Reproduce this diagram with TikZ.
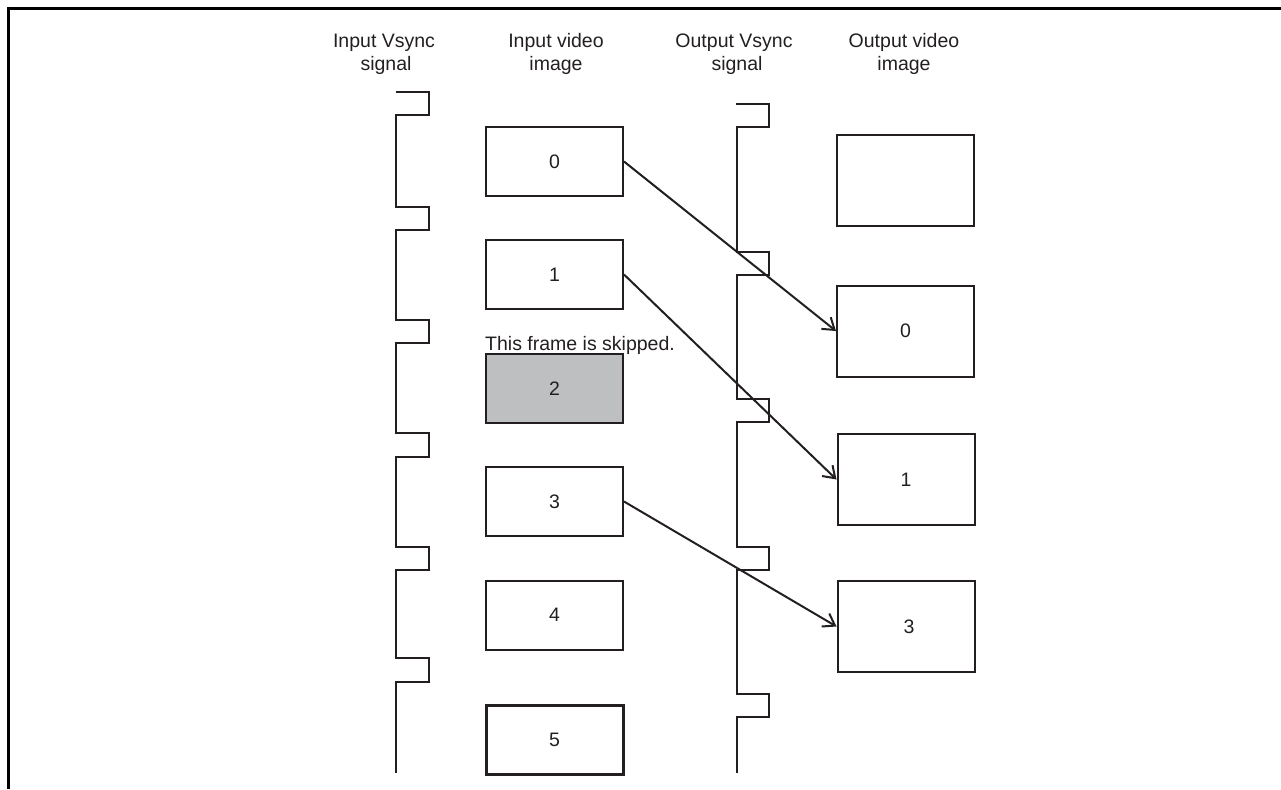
\documentclass[tikz,border=0pt]{standalone}
\usepackage{fontspec}
\setmainfont{Liberation Sans}
\usetikzlibrary{arrows.meta}
\definecolor{ink}{HTML}{231F20}
\definecolor{skipgray}{HTML}{BEBFC1}
\tikzset{
  lbl/.style={font=\fontsize{19.5}{23}\selectfont, text=ink, inner sep=0pt},
  hdr/.style={lbl, anchor=base},
  inbox/.style={draw=ink, line width=2pt, minimum width=137pt, minimum height=69pt, inner sep=0pt, lbl},
  outbox/.style={draw=ink, line width=2pt, minimum width=137pt, minimum height=91pt, inner sep=0pt, lbl},
  wave/.style={draw=ink, line width=2pt, line join=miter},
  arr/.style={draw=ink, line width=2pt, -{Straight Barb[length=11pt,width=15pt,line width=2pt]}},
  frame/.style={draw=black, line width=3pt}
}
\begin{document}
\begin{tikzpicture}[x=1pt,y=-1pt]
\useasboundingbox (0,0) rectangle (1281,789);
% frame
\draw[frame] (8,789) -- (8,9) -- (1281,9);

% headers
\node[hdr] (h1a) at (384,48) {Input Vsync};
\node[hdr] (h1b) at (386,71) {signal};
\node[hdr] (h2a) at (556,48) {Input video};
\node[hdr] (h2b) at (556,71) {image};
\node[hdr] (h3a) at (734,48) {Output Vsync};
\node[hdr] (h3b) at (737,71) {signal};
\node[hdr] (h4a) at (904,48) {Output video};
\node[hdr] (h4b) at (904,71) {image};

% input vsync waveform
\draw[wave] (396,92)
  -- (429,92) -- (429,115) -- (396,115)
  -- (396,207) -- (429,207) -- (429,230) -- (396,230)
  -- (396,320) -- (429,320) -- (429,343) -- (396,343)
  -- (396,433) -- (429,433) -- (429,457) -- (396,457)
  -- (396,547) -- (429,547) -- (429,570) -- (396,570)
  -- (396,658) -- (429,658) -- (429,682) -- (396,682)
  -- (396,773);

% output vsync waveform
\draw[wave] (736,104)
  -- (769,104) -- (769,127) -- (737,127)
  -- (737,252) -- (769,252) -- (769,275) -- (737,275)
  -- (737,399) -- (769,399) -- (769,422) -- (737,422)
  -- (737,547) -- (769,547) -- (769,570) -- (737,570)
  -- (737,694) -- (769,694) -- (769,717) -- (737,717)
  -- (737,773);

% input video boxes
\node[inbox] (i0) at (554.5,161.5) {0};
\node[inbox] (i1) at (554.5,274.5) {1};
\node[inbox, fill=skipgray] (i2) at (554.5,388.5) {2};
\node[inbox] (i3) at (554.5,501.5) {3};
\node[inbox] (i4) at (554.5,615) {4};
\node[inbox, line width=3pt] (i5) at (554.5,739.5) {5};
\node[lbl, anchor=base west] (skip) at (485,350) {This frame is skipped.};

% output video boxes
\node[outbox] (oe) at (905,180.5) {};
\node[outbox] (o0) at (905.5,331) {0};
\node[outbox] (o1) at (906,479.5) {1};
\node[outbox] (o3) at (906,626.5) {\hspace*{6pt}3};

% arrows
\draw[arr] (i0.east) -- (o0.west);
\draw[arr] (i1.east) -- (o1.west);
\draw[arr] (i3.east) -- (o3.west);
\end{tikzpicture}
\end{document}
